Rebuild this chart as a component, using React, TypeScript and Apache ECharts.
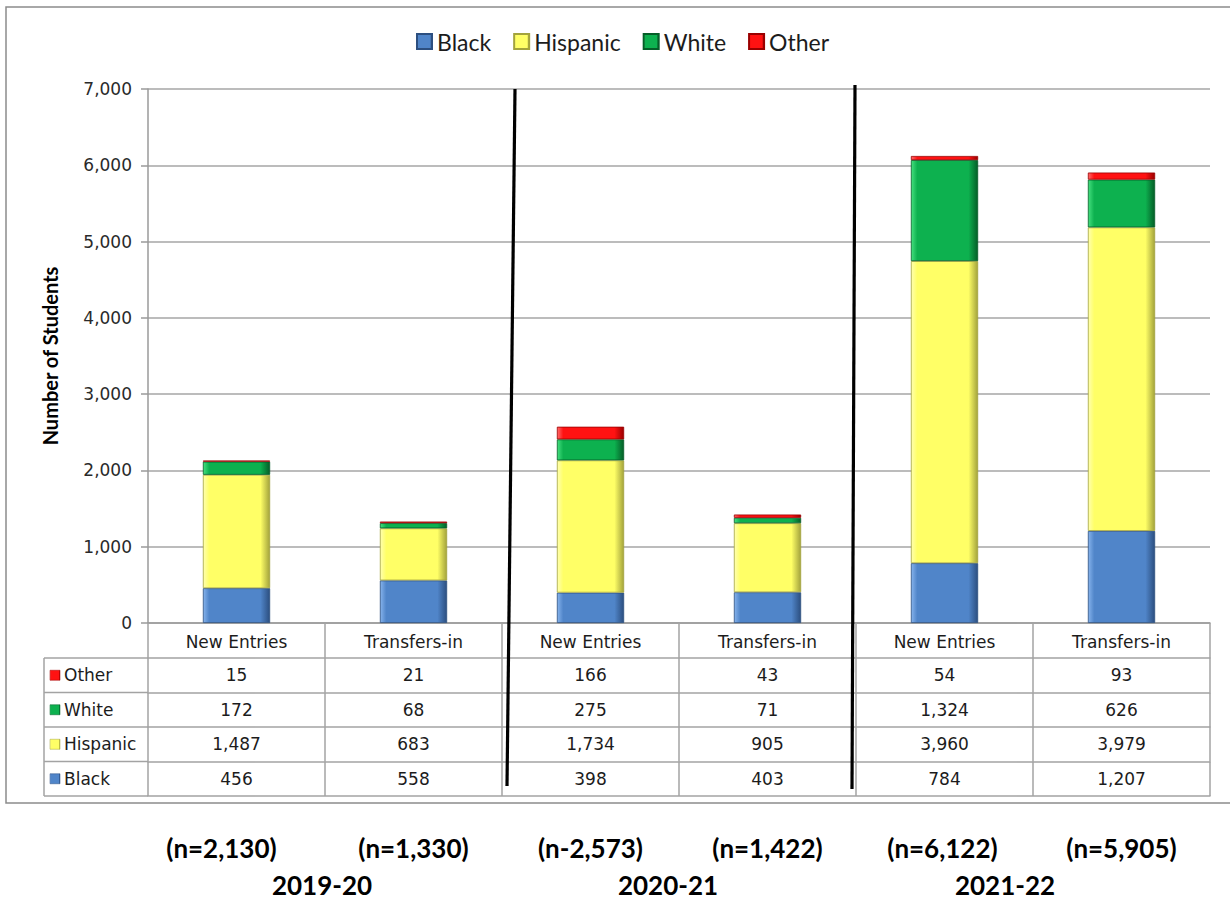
import React, { useEffect, useRef } from "react";
import * as echarts from "echarts";

// ---- data ----
const categories = ["New Entries", "Transfers-in", "New Entries", "Transfers-in", "New Entries", "Transfers-in"];
const black = [456, 558, 398, 403, 784, 1207];
const hispanic = [1487, 683, 1734, 905, 3960, 3979];
const white = [172, 68, 275, 71, 1324, 626];
const other = [15, 21, 166, 43, 54, 93];
const nLabels = ["(n=2,130)", "(n=1,330)", "(n-2,573)", "(n=1,422)", "(n=6,122)", "(n=5,905)"];
const years = ["2019-20", "2020-21", "2021-22"];
const yMin = 0;
const yMax = 7000;
const yStep = 1000;

// ---- layout / style ----
const GRID_LEFT = 148;
const GRID_TOP = 89;
const GRID_W = 1062;
const GRID_H = 534;
const HEADER_H = 35;
const ROW_H = 34.5;
const TABLE_LEFT = 44;
const BORDER = "#a3a3a3";
const GRIDLINE = "#a6a6a6";
const TEXT = "#1c1c1c";
const TABLE_FONT = "DejaVu Sans";
const TITLE_FONT = "Lato";
// per-label horizontal nudges (label styling only)
const nLabelPad = [30, 0, 0, 0, 4, 0];
const yearPad = [6, 22, 56];

type Shade = { base: string; light: string; dark: string };
const shades: Record<string, Shade> = {
  Black: { base: "#5085c9", light: "#86b3ec", dark: "#2c4f80" },
  Hispanic: { base: "#ffff66", light: "#ffffb0", dark: "#a3a33c" },
  White: { base: "#0db14f", light: "#45e07f", dark: "#055e28" },
  Other: { base: "#ff1212", light: "#ff6a6a", dark: "#9a0000" },
};

const bevel = (s: Shade) =>
  new echarts.graphic.LinearGradient(0, 0, 1, 0, [
    { offset: 0, color: s.light },
    { offset: 0.09, color: s.base },
    { offset: 0.86, color: s.base },
    { offset: 1, color: s.dark },
  ]);

const fmt = (v: number) => v.toLocaleString("en-US");

const stackSeries = [
  { name: "Black", data: black },
  { name: "Hispanic", data: hispanic },
  { name: "White", data: white },
  { name: "Other", data: other },
];
const tableRows = [
  { name: "Other", data: other },
  { name: "White", data: white },
  { name: "Hispanic", data: hispanic },
  { name: "Black", data: black },
];

export default function App() {
  const ref = useRef<HTMLDivElement>(null);

  useEffect(() => {
    if (!ref.current) return;
    const chart = echarts.init(ref.current, undefined, { renderer: "svg" });

    const tableLabel = {
      interval: 0,
      verticalAlign: "middle",
      fontSize: 17,
      fontFamily: TABLE_FONT,
      color: TEXT,
    };
    const borderLine = { show: true, lineStyle: { color: BORDER, width: 1.5 } };
    const baseCat = {
      type: "category",
      gridIndex: 0,
      position: "bottom",
      boundaryGap: true,
      splitLine: { show: false },
    };
    const bigLabel = {
      interval: 0,
      margin: 12,
      verticalAlign: "middle",
      fontSize: 26,
      lineHeight: 26,
      fontWeight: "bold",
      fontFamily: TITLE_FONT,
      color: "#000",
    };

    const xAxes: any[] = [
      {
        ...baseCat,
        data: categories,
        axisLine: { show: true, lineStyle: { color: "#9a9a9a", width: 1.5 } },
        axisTick: { show: true, interval: 0, length: HEADER_H, lineStyle: { color: BORDER, width: 1.5 } },
        axisLabel: { ...tableLabel, margin: 19 },
      },
      ...tableRows.map((r, i) => ({
        ...baseCat,
        offset: HEADER_H + i * ROW_H,
        data: r.data.map(fmt),
        axisLine: borderLine,
        axisTick: { show: true, interval: 0, length: ROW_H, lineStyle: { color: BORDER, width: 1.5 } },
        axisLabel: { ...tableLabel, margin: ROW_H / 2 },
      })),
      {
        ...baseCat,
        offset: HEADER_H + tableRows.length * ROW_H,
        data: categories,
        axisLine: borderLine,
        axisTick: { show: false },
        axisLabel: { show: false },
      },
      {
        ...baseCat,
        offset: 200,
        data: nLabels.map((v, i) => ({ value: v, textStyle: { padding: [0, nLabelPad[i], 0, 0] } })),
        axisLine: { show: false },
        axisTick: { show: false },
        axisLabel: bigLabel,
      },
      {
        ...baseCat,
        offset: 237,
        data: years.map((v, i) => ({ value: v, textStyle: { padding: [0, yearPad[i], 0, 0] } })),
        axisLine: { show: false },
        axisTick: { show: false },
        axisLabel: bigLabel,
      },
    ];

    const graphics: any[] = [
      {
        type: "rect",
        silent: true,
        z: 0,
        shape: { x: 6, y: 7, width: 1240, height: 796 },
        style: { fill: "none", stroke: "#8c8c8c", lineWidth: 1.5 },
      },
    ];
    const tableTop = GRID_TOP + GRID_H + HEADER_H;
    const tableBottom = tableTop + tableRows.length * ROW_H;
    graphics.push({
      type: "line",
      silent: true,
      shape: { x1: TABLE_LEFT, y1: tableTop, x2: TABLE_LEFT, y2: tableBottom },
      style: { stroke: BORDER, lineWidth: 1.5 },
    });
    for (let i = 0; i <= tableRows.length; i++) {
      const y = tableTop + i * ROW_H;
      graphics.push({
        type: "line",
        silent: true,
        shape: { x1: TABLE_LEFT, y1: y, x2: GRID_LEFT, y2: y },
        style: { stroke: BORDER, lineWidth: 1.5 },
      });
    }
    tableRows.forEach((r, i) => {
      const cy = tableTop + i * ROW_H + ROW_H / 2;
      const s = shades[r.name];
      graphics.push({
        type: "rect",
        silent: true,
        shape: { x: TABLE_LEFT + 6, y: cy - 5, width: 10, height: 10 },
        style: { fill: bevel(s), stroke: s.dark, lineWidth: 0.5 },
      });
      graphics.push({
        type: "text",
        silent: true,
        x: TABLE_LEFT + 20,
        y: cy,
        style: {
          text: r.name,
          fontSize: 17,
          fontFamily: TABLE_FONT,
          fill: TEXT,
          verticalAlign: "middle",
          align: "left",
        },
      });
    });
    // separators between school years
    graphics.push({
      type: "line",
      silent: true,
      z: 100,
      shape: { x1: 515, y1: 89, x2: 507, y2: 786 },
      style: { stroke: "#000", lineWidth: 3.2 },
    });
    graphics.push({
      type: "line",
      silent: true,
      z: 100,
      shape: { x1: 855, y1: 85, x2: 852, y2: 789 },
      style: { stroke: "#000", lineWidth: 3.2 },
    });

    chart.setOption({
      animation: false,
      backgroundColor: "#ffffff",
      legend: {
        data: stackSeries.map((s) => s.name),
        left: 411,
        top: 25,
        icon: "rect",
        itemWidth: 15,
        itemHeight: 15,
        itemGap: 22,
        textStyle: { fontSize: 23, fontFamily: TITLE_FONT, color: TEXT },
      },
      grid: {
        left: GRID_LEFT,
        top: GRID_TOP,
        width: GRID_W,
        height: GRID_H,
        containLabel: false,
        outerBoundsMode: "none",
      },
      xAxis: xAxes,
      yAxis: {
        type: "value",
        min: yMin,
        max: yMax,
        interval: yStep,
        name: "Number of Students",
        nameLocation: "middle",
        nameRotate: 90,
        nameGap: 88,
        nameTextStyle: { fontSize: 20, fontWeight: "bold", fontFamily: TITLE_FONT, color: "#000" },
        axisLine: { show: true, lineStyle: { color: "#9a9a9a", width: 1.5 } },
        axisTick: { show: true, length: 7, lineStyle: { color: "#9a9a9a", width: 1.5 } },
        splitLine: { show: true, lineStyle: { color: GRIDLINE, width: 1.5 } },
        axisLabel: {
          margin: 16,
          fontSize: 17,
          fontFamily: TABLE_FONT,
          color: "#2a2a2a",
          formatter: (v: number) => fmt(v),
        },
      },
      series: stackSeries.map((s) => ({
        type: "bar",
        name: s.name,
        stack: "total",
        xAxisIndex: 0,
        yAxisIndex: 0,
        barWidth: "38%",
        data: s.data,
        itemStyle: {
          color: bevel(shades[s.name]),
          borderColor: shades[s.name].dark,
          borderWidth: 0.8,
        },
      })),
      graphic: graphics,
    });

    return () => chart.dispose();
  }, []);

  return (
    <div
      ref={ref}
      style={{ position: "absolute", left: 0, top: 0, width: 1230, height: 901 }}
    />
  );
}
